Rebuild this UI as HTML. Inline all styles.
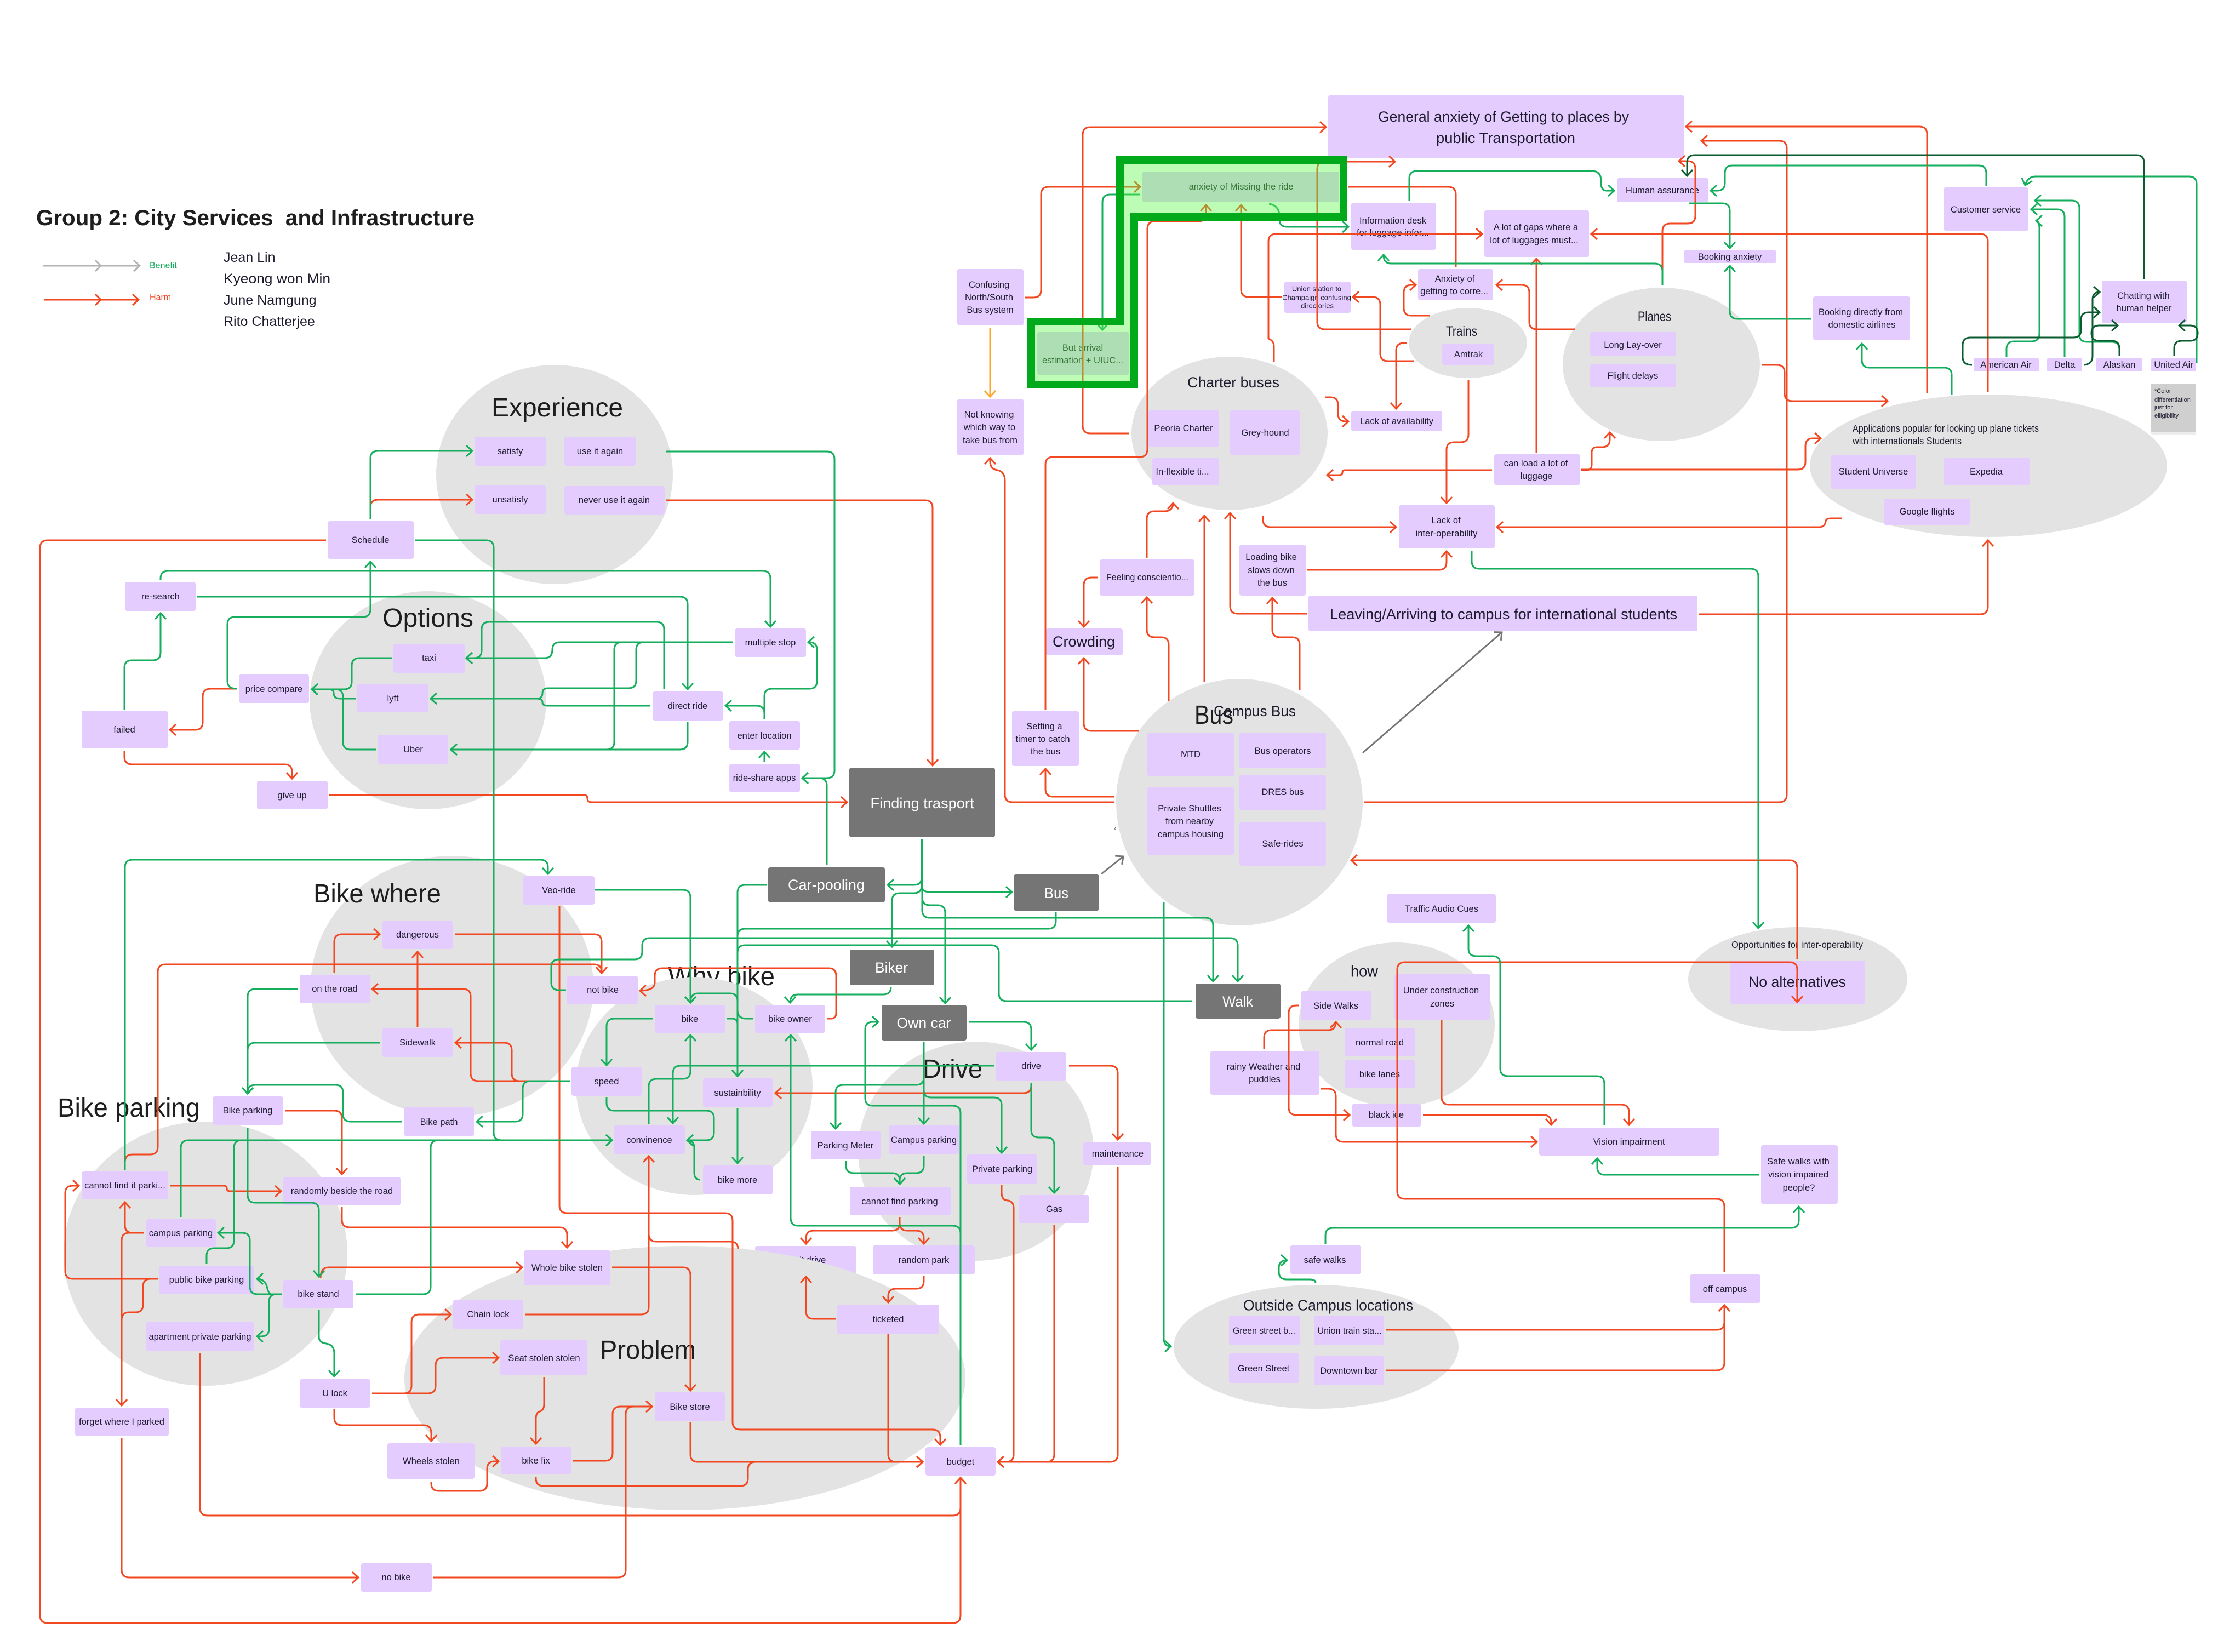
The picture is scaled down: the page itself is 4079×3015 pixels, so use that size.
<!DOCTYPE html>
<html><head><meta charset="utf-8"><title>Group 2: City Services and Infrastructure</title>
<style>
html,body{margin:0;padding:0;background:#fff}
svg{display:block}
text{font-family:"Liberation Sans",sans-serif;fill:#1e1b2e;dominant-baseline:central}
.c text,.c{text-anchor:middle;font-size:16.5px}
.h{font-size:48px;fill:#1e1e1e;dominant-baseline:auto}
.w{fill:#fff;font-size:27px;text-anchor:middle}
</style></head><body>
<svg xmlns="http://www.w3.org/2000/svg" width="4079" height="3015" viewBox="0 0 4079 3015">
<defs>
<marker id="mr" markerUnits="userSpaceOnUse" markerWidth="24" markerHeight="26" viewBox="-16 -13 20 26" refX="0" refY="0" orient="auto"><path d="M-11 -10L0 0L-11 10" fill="none" stroke="#F24822" stroke-width="3"/></marker>
<marker id="mg" markerUnits="userSpaceOnUse" markerWidth="24" markerHeight="26" viewBox="-16 -13 20 26" refX="0" refY="0" orient="auto"><path d="M-11 -10L0 0L-11 10" fill="none" stroke="#14AE5C" stroke-width="3"/></marker>
<marker id="md" markerUnits="userSpaceOnUse" markerWidth="24" markerHeight="26" viewBox="-16 -13 20 26" refX="0" refY="0" orient="auto"><path d="M-11 -10L0 0L-11 10" fill="none" stroke="#0B5B30" stroke-width="3"/></marker>
<marker id="mo" markerUnits="userSpaceOnUse" markerWidth="24" markerHeight="26" viewBox="-16 -13 20 26" refX="0" refY="0" orient="auto"><path d="M-11 -10L0 0L-11 10" fill="none" stroke="#FFA629" stroke-width="3"/></marker>
<marker id="my" markerUnits="userSpaceOnUse" markerWidth="24" markerHeight="26" viewBox="-16 -13 20 26" refX="0" refY="0" orient="auto"><path d="M-11 -10L0 0L-11 10" fill="none" stroke="#757575" stroke-width="3"/></marker>
</defs>
<rect width="4079" height="3015" fill="#fff"/>

<!-- legend -->
<text x="66" y="398" style="font-size:40px;font-weight:bold;fill:#1e1e1e" textLength="800" lengthAdjust="spacingAndGlyphs" xml:space="preserve">Group 2: City Services  and Infrastructure</text>
<g fill="none" stroke="#B3B3B3" stroke-width="3"><path d="M78 485H255"/><path d="M174 475L184 485L174 495M244 475L255 485L244 495"/></g>
<g fill="none" stroke="#F24822" stroke-width="3"><path d="M80 547H253"/><path d="M174 537L184 547L174 557M242 537L253 547L242 557"/></g>
<text x="273" y="485" style="font-size:16px;fill:#14AE5C">Benefit</text>
<text x="273" y="543" style="font-size:16px;fill:#F24822">Harm</text>
<g style="font-size:25px">
<text x="408" y="470" style="font-size:25px" >Jean Lin</text>
<text x="408" y="509" style="font-size:25px" textLength="195" lengthAdjust="spacingAndGlyphs">Kyeong won Min</text>
<text x="408" y="548" style="font-size:25px">June Namgung</text>
<text x="408" y="587" style="font-size:25px">Rito Chatterjee</text>
</g>

<!-- ellipses -->
<g fill="#E3E3E3">
<ellipse cx="1012" cy="866" rx="216" ry="200"/>
<ellipse cx="781" cy="1278" rx="216" ry="199"/>
<ellipse cx="825" cy="1800" rx="258" ry="238"/>
<ellipse cx="375" cy="2288" rx="259" ry="241"/>
</g>
<text class="h" x="1219" y="1798" textLength="195" lengthAdjust="spacingAndGlyphs">Why bike</text>
<g fill="#E3E3E3">
<ellipse cx="1267" cy="1982" rx="216" ry="199"/>
<ellipse cx="1781" cy="2101" rx="215" ry="200"/>
</g>
<rect x="1378" y="2274" width="185" height="50" rx="4" fill="#E4CCFF"/>
<text x="1470" y="2300" text-anchor="middle" style="font-size:16.5px">can't drive</text>
<g fill="#E3E3E3">
<ellipse cx="1250" cy="2515" rx="512" ry="241"/>
<ellipse cx="2262" cy="1464" rx="225" ry="225"/>
<ellipse cx="2244" cy="791" rx="179" ry="140"/>
<ellipse cx="2679" cy="626" rx="108" ry="64"/>
<ellipse cx="3032" cy="665" rx="180" ry="140"/>
<ellipse cx="3629" cy="850" rx="326" ry="130"/>
<ellipse cx="2549" cy="1870" rx="179" ry="150"/>
<ellipse cx="3281" cy="1787" rx="200" ry="95"/>
<ellipse cx="2402" cy="2458" rx="260" ry="113"/>
</g>

<!-- headings -->
<text class="h" x="897" y="760" textLength="240" lengthAdjust="spacingAndGlyphs">Experience</text>
<text class="h" x="698" y="1144" textLength="166" lengthAdjust="spacingAndGlyphs">Options</text>
<text class="h" x="572" y="1647" textLength="233" lengthAdjust="spacingAndGlyphs">Bike where</text>
<text class="h" x="105" y="2038" textLength="260" lengthAdjust="spacingAndGlyphs">Bike parking</text>
<text class="h" x="1095" y="2480" textLength="175" lengthAdjust="spacingAndGlyphs">Problem</text>
<text class="h" x="1684" y="1967" textLength="109" lengthAdjust="spacingAndGlyphs">Drive</text>
<text class="h" x="2180" y="1321" textLength="71" lengthAdjust="spacingAndGlyphs">Bus</text>
<text x="2215" y="1298" style="font-size:27px" textLength="150" lengthAdjust="spacingAndGlyphs">Campus Bus</text>
<text x="2167" y="698" style="font-size:27px" textLength="168" lengthAdjust="spacingAndGlyphs">Charter buses</text>
<text x="2639" y="605" style="font-size:25px" textLength="57" lengthAdjust="spacingAndGlyphs">Trains</text>
<text x="2989" y="578" style="font-size:25px" textLength="61" lengthAdjust="spacingAndGlyphs">Planes</text>
<text x="2465" y="1773" style="font-size:30px" textLength="50" lengthAdjust="spacingAndGlyphs">how</text>
<text x="2269" y="2382" style="font-size:28px" textLength="310" lengthAdjust="spacingAndGlyphs">Outside Campus locations</text>
<text x="3381" y="782" style="font-size:18px" textLength="340" lengthAdjust="spacingAndGlyphs">Applications popular for looking up plane tickets</text>
<text x="3381" y="805" style="font-size:18px" textLength="199" lengthAdjust="spacingAndGlyphs">with internationals Students</text>
<text x="3160" y="1724" style="font-size:17.5px" textLength="240" lengthAdjust="spacingAndGlyphs">Opportunities for inter-operability</text>
<text x="2033" y="1511" style="font-size:8px">z</text>

<!-- boxes -->
<g fill="#E4CCFF">
<rect x="866" y="797" width="130" height="53" rx="4"/><rect x="866" y="886" width="130" height="52" rx="4"/>
<rect x="1030" y="797" width="130" height="53" rx="4"/><rect x="1030" y="887" width="183" height="52" rx="4"/>
<rect x="598" y="951" width="157" height="69" rx="4"/><rect x="228" y="1062" width="129" height="53" rx="4"/>
<rect x="149" y="1297" width="157" height="69" rx="4"/><rect x="436" y="1231" width="128" height="52" rx="4"/>
<rect x="718" y="1175" width="130" height="53" rx="4"/><rect x="652" y="1248" width="130" height="52" rx="4"/>
<rect x="689" y="1341" width="129" height="53" rx="4"/><rect x="469" y="1425" width="129" height="52" rx="4"/>
<rect x="1191" y="1262" width="129" height="53" rx="4"/><rect x="1341" y="1147" width="130" height="52" rx="4"/>
<rect x="1331" y="1316" width="129" height="52" rx="4"/><rect x="1331" y="1394" width="129" height="52" rx="4"/>
<rect x="955" y="1599" width="130" height="52" rx="4"/><rect x="698" y="1680" width="128" height="52" rx="4"/>
<rect x="547" y="1779" width="129" height="52" rx="4"/><rect x="698" y="1876" width="128" height="53" rx="4"/>
<rect x="388" y="2001" width="129" height="52" rx="4"/><rect x="738" y="2021" width="127" height="53" rx="4"/>
<rect x="1035" y="1781" width="129" height="52" rx="4"/><rect x="149" y="2138" width="158" height="51" rx="4"/>
<rect x="517" y="2148" width="214" height="52" rx="4"/><rect x="267" y="2225" width="127" height="51" rx="4"/>
<rect x="956" y="2282" width="158" height="64" rx="4"/><rect x="290" y="2310" width="173" height="52" rx="4"/>
<rect x="517" y="2336" width="128" height="52" rx="4"/><rect x="267" y="2412" width="196" height="54" rx="4"/>
<rect x="827" y="2372" width="128" height="53" rx="4"/><rect x="913" y="2446" width="159" height="64" rx="4"/>
<rect x="547" y="2517" width="129" height="52" rx="4"/><rect x="137" y="2569" width="171" height="52" rx="4"/>
<rect x="707" y="2634" width="159" height="65" rx="4"/><rect x="914" y="2640" width="128" height="51" rx="4"/>
<rect x="659" y="2853" width="129" height="52" rx="4"/><rect x="1195" y="2541" width="128" height="53" rx="4"/>
<rect x="1689" y="2641" width="128" height="52" rx="4"/><rect x="1528" y="2381" width="186" height="53" rx="4"/>
<rect x="1593" y="2273" width="186" height="53" rx="4"/><rect x="1195" y="1834" width="128" height="51" rx="4"/>
<rect x="1378" y="1834" width="128" height="51" rx="4"/><rect x="1043" y="1947" width="128" height="53" rx="4"/>
<rect x="1283" y="1968" width="127" height="52" rx="4"/><rect x="1120" y="2054" width="130" height="52" rx="4"/>
<rect x="1283" y="2127" width="127" height="53" rx="4"/><rect x="1818" y="1920" width="128" height="52" rx="4"/>
<rect x="1480" y="2064" width="127" height="52" rx="4"/><rect x="1622" y="2054" width="129" height="52" rx="4"/>
<rect x="1765" y="2107" width="128" height="53" rx="4"/><rect x="1977" y="2085" width="124" height="41" rx="4"/>
<rect x="1860" y="2181" width="128" height="51" rx="4"/><rect x="1551" y="2166" width="184" height="52" rx="4"/>
<rect x="2094" y="1338" width="159" height="78" rx="4"/><rect x="2262" y="1337" width="158" height="65" rx="4"/>
<rect x="2262" y="1414" width="158" height="65" rx="4"/><rect x="2094" y="1437" width="159" height="123" rx="4"/>
<rect x="2262" y="1500" width="158" height="80" rx="4"/><rect x="1847" y="1298" width="122" height="100" rx="4"/>
<rect x="1909" y="1147" width="140" height="49" rx="4"/><rect x="2007" y="1021" width="173" height="66" rx="4"/>
<rect x="2262" y="994" width="121" height="93" rx="4"/><rect x="2388" y="1087" width="710" height="65" rx="4"/>
<rect x="2553" y="922" width="175" height="79" rx="4"/><rect x="2531" y="1632" width="199" height="52" rx="4"/>
<rect x="2424" y="174" width="650" height="115" rx="4"/><rect x="1747" y="491" width="121" height="103" rx="4"/>
<rect x="1747" y="728" width="121" height="103" rx="4"/><rect x="2466" y="370" width="155" height="86" rx="4"/>
<rect x="2709" y="384" width="191" height="85" rx="4"/><rect x="2588" y="491" width="137" height="57" rx="4"/>
<rect x="2344" y="514" width="121" height="57" rx="4"/><rect x="2632" y="627" width="95" height="39" rx="4"/>
<rect x="2095" y="749" width="130" height="66" rx="4"/><rect x="2245" y="749" width="128" height="81" rx="4"/>
<rect x="2103" y="836" width="122" height="50" rx="4"/><rect x="2466" y="750" width="166" height="37" rx="4"/>
<rect x="2727" y="829" width="157" height="56" rx="4"/><rect x="2951" y="325" width="167" height="44" rx="4"/>
<rect x="3074" y="457" width="167" height="23" rx="2"/><rect x="3309" y="541" width="177" height="80" rx="4"/>
<rect x="3547" y="342" width="155" height="79" rx="4"/><rect x="3836" y="512" width="155" height="78" rx="4"/>
<rect x="3602" y="654" width="119" height="24" rx="2"/><rect x="3736" y="654" width="64" height="24" rx="2"/>
<rect x="3826" y="654" width="84" height="24" rx="2"/><rect x="3926" y="654" width="82" height="24" rx="2"/>
<rect x="2902" y="606" width="157" height="44" rx="4"/><rect x="2902" y="664" width="157" height="43" rx="4"/>
<rect x="3342" y="830" width="155" height="62" rx="4"/><rect x="3547" y="836" width="158" height="49" rx="4"/>
<rect x="3438" y="910" width="158" height="48" rx="4"/><rect x="2545" y="1778" width="175" height="83" rx="4"/>
<rect x="2374" y="1809" width="129" height="52" rx="4"/><rect x="2454" y="1876" width="128" height="52" rx="4"/>
<rect x="2454" y="1935" width="128" height="51" rx="4"/><rect x="2209" y="1918" width="199" height="80" rx="4"/>
<rect x="2468" y="2014" width="125" height="43" rx="4"/><rect x="2809" y="2058" width="329" height="51" rx="4"/>
<rect x="3214" y="2090" width="140" height="107" rx="4"/><rect x="2354" y="2273" width="130" height="52" rx="4"/>
<rect x="3084" y="2326" width="129" height="52" rx="4"/><rect x="2243" y="2401" width="129" height="54" rx="4"/>
<rect x="2398" y="2401" width="128" height="54" rx="4"/><rect x="2243" y="2470" width="128" height="54" rx="4"/>
<rect x="2398" y="2475" width="128" height="53" rx="4"/><rect x="3157" y="1753" width="247" height="79" rx="4"/>
<rect x="2085" y="313" width="359" height="56" rx="4"/><rect x="1893" y="606" width="167" height="79" rx="4"/>
</g>
<rect x="3926" y="703" width="82" height="90" rx="2" fill="#EDEDED"/>
<rect x="3926" y="700" width="82" height="89" rx="2" fill="#CFCFCF"/>
<g fill="#757575">
<rect x="1550" y="1401" width="266" height="127" rx="4"/><rect x="1402" y="1583" width="213" height="64" rx="4"/>
<rect x="1850" y="1596" width="156" height="66" rx="4"/><rect x="1551" y="1733" width="154" height="65" rx="4"/>
<rect x="1609" y="1834" width="155" height="65" rx="4"/><rect x="2182" y="1795" width="155" height="64" rx="4"/>
</g>

<!-- box text -->
<g class="c">
<text x="931" y="824">satisfy</text><text x="931" y="912">unsatisfy</text>
<text x="1095" y="824">use it again</text><text x="1121" y="913">never use it again</text>
<text x="676" y="986">Schedule</text><text x="293" y="1089">re-search</text><text x="227" y="1332">failed</text>
<text x="500" y="1258">price compare</text><text x="783" y="1201">taxi</text><text x="717" y="1275">lyft</text>
<text x="754" y="1368">Uber</text><text x="533" y="1452">give up</text><text x="1255" y="1289">direct ride</text>
<text x="1406" y="1173">multiple stop</text><text x="1395" y="1343">enter location</text><text x="1395" y="1420">ride-share apps</text>
<text x="1020" y="1625">Veo-ride</text><text x="762" y="1706">dangerous</text><text x="611" y="1805">on the road</text>
<text x="762" y="1903">Sidewalk</text><text x="452" y="2027">Bike parking</text><text x="801" y="2048">Bike path</text>
<text x="1100" y="1807">not bike</text><text x="228" y="2164">cannot find it parki...</text><text x="624" y="2174">randomly beside the road</text>
<text x="330" y="2251">campus parking</text><text x="1035" y="2314">Whole bike stolen</text><text x="377" y="2336">public bike parking</text>
<text x="581" y="2362">bike stand</text><text x="365" y="2440">apartment private parking</text><text x="891" y="2399">Chain lock</text>
<text x="993" y="2479">Seat stolen stolen</text><text x="611" y="2543">U lock</text><text x="222" y="2595">forget where I parked</text>
<text x="787" y="2667">Wheels stolen</text><text x="978" y="2666">bike fix</text><text x="723" y="2879">no bike</text>
<text x="1259" y="2568">Bike store</text><text x="1753" y="2668">budget</text><text x="1621" y="2408">ticketed</text>
<text x="1686" y="2300">random park</text><text x="1259" y="1860">bike</text><text x="1442" y="1860">bike owner</text>
<text x="1107" y="1974">speed</text><text x="1346" y="1995">sustainbility</text><text x="1185" y="2081">convinence</text>
<text x="1346" y="2154">bike more</text><text x="1882" y="1946">drive</text><text x="1543" y="2091">Parking Meter</text>
<text x="1686" y="2081">Campus parking</text><text x="1829" y="2134">Private parking</text><text x="2040" y="2106">maintenance</text>
<text x="1924" y="2207">Gas</text><text x="1642" y="2193">cannot find parking</text>
<text x="2173" y="1377">MTD</text><text x="2341" y="1371">Bus operators</text><text x="2341" y="1446">DRES  bus</text>
<text x="2171" y="1476">Private Shuttles</text><text x="2171" y="1499">from nearby</text><text x="2173" y="1523">campus housing</text>
<text x="2341" y="1540">Safe-rides</text>
<text x="1906" y="1326">Setting a</text><text x="1903" y="1349">timer to catch</text><text x="1908" y="1372">the bus</text>
<text x="2094" y="1054" textLength="150" lengthAdjust="spacingAndGlyphs">Feeling conscientio...</text>
<text x="2320" y="1017">Loading bike</text><text x="2320" y="1041">slows down</text><text x="2322" y="1064">the bus</text>
<text x="2639" y="950">Lack of</text><text x="2640" y="974">inter-operability</text>
<text x="2631" y="1659">Traffic Audio Cues</text>
<text x="1805" y="520">Confusing</text><text x="1805" y="543">North/South</text><text x="1807" y="566">Bus system</text>
<text x="1805" y="757">Not knowing</text><text x="1806" y="780">which way to</text><text x="1807" y="804">take bus from</text>
<text x="2542" y="403">Information desk</text><text x="2542" y="425">for luggage infor...</text>
<text x="2803" y="415">A lot of gaps where a</text><text x="2800" y="439">lot of luggages must...</text>
<text x="2655" y="509">Anxiety of</text><text x="2654" y="532">getting to corre...</text>
<g style="font-size:13px"><text x="2403" y="527" style="font-size:13px">Union station to</text><text x="2403" y="543" style="font-size:13px">Champaign confusing</text><text x="2404" y="558" style="font-size:13px">directories</text></g>
<text x="2680" y="647">Amtrak</text><text x="2160" y="782">Peoria Charter</text><text x="2309" y="790">Grey-hound</text>
<text x="2158" y="861">In-flexible ti...</text><text x="2549" y="769">Lack of availability</text>
<text x="2803" y="846">can load a lot of</text><text x="2804" y="869">luggage</text>
<text x="3034" y="348">Human assurance</text><text x="3157" y="469">Booking anxiety</text>
<text x="3396" y="570">Booking directly from</text><text x="3398" y="593">domestic airlines</text>
<text x="3624" y="383">Customer service</text>
<text x="3912" y="540">Chatting with</text><text x="3913" y="563">human helper</text>
<text x="3661" y="666">American Air</text><text x="3768" y="666">Delta</text><text x="3868" y="666">Alaskan</text><text x="3967" y="666">United Air</text>
<text x="2980" y="630">Long Lay-over</text><text x="2980" y="686">Flight delays</text>
<text x="3419" y="861">Student Universe</text><text x="3625" y="861">Expedia</text><text x="3517" y="934">Google flights</text>
<text x="2630" y="1808">Under construction</text><text x="2632" y="1832">zones</text>
<text x="2438" y="1836">Side Walks</text><text x="2518" y="1903">normal road</text><text x="2518" y="1961">bike lanes</text>
<text x="2306" y="1947">rainy Weather and</text><text x="2308" y="1970">puddles</text>
<text x="2530" y="2035">black ice</text><text x="2973" y="2084">Vision impairment</text>
<text x="3282" y="2120">Safe walks with</text><text x="3282" y="2144">vision impaired</text><text x="3283" y="2168">people?</text>
<text x="2418" y="2300">safe walks</text><text x="3148" y="2353">off campus</text>
<text x="2307" y="2429" textLength="114" lengthAdjust="spacingAndGlyphs">Green street b...</text>
<text x="2463" y="2429" textLength="117" lengthAdjust="spacingAndGlyphs">Union train sta...</text>
<text x="2306" y="2498">Green Street</text><text x="2462" y="2502">Downtown bar</text>
<text x="2265" y="341" style="fill:#1e1b2e">anxiety of Missing the ride</text>
<text x="1976" y="635">But arrival</text><text x="1976" y="658">estimation + UIUC...</text>
</g>
<text x="2744" y="213" text-anchor="middle" style="font-size:27px" textLength="458" lengthAdjust="spacingAndGlyphs">General anxiety of Getting to places by</text>
<text x="2748" y="252" text-anchor="middle" style="font-size:27px" textLength="254" lengthAdjust="spacingAndGlyphs">public Transportation</text>
<text x="2744" y="1121" text-anchor="middle" style="font-size:27px" textLength="634" lengthAdjust="spacingAndGlyphs">Leaving/Arriving to campus for international students</text>
<text x="1978" y="1171" text-anchor="middle" style="font-size:27px" textLength="114" lengthAdjust="spacingAndGlyphs">Crowding</text>
<text x="3280" y="1792" text-anchor="middle" style="font-size:27px" textLength="178" lengthAdjust="spacingAndGlyphs">No alternatives</text>
<text class="w" x="1683" y="1466" textLength="189" lengthAdjust="spacingAndGlyphs">Finding trasport</text>
<text class="w" x="1508" y="1615" textLength="140" lengthAdjust="spacingAndGlyphs">Car-pooling</text>
<text class="w" x="1928" y="1630" textLength="44" lengthAdjust="spacingAndGlyphs">Bus</text>
<text class="w" x="1627" y="1766" textLength="60" lengthAdjust="spacingAndGlyphs">Biker</text>
<text class="w" x="1686" y="1867" textLength="99" lengthAdjust="spacingAndGlyphs">Own car</text>
<text class="w" x="2259" y="1828" textLength="56" lengthAdjust="spacingAndGlyphs">Walk</text>
<g style="font-size:11px"><text x="3932" y="714" style="font-size:11px">*Color</text><text x="3932" y="730" style="font-size:11px">differentiation</text><text x="3932" y="744" style="font-size:11px">just for</text><text x="3932" y="759" style="font-size:11px">elligibility</text></g>

<!-- red connectors -->
<g fill="none" stroke="#F24822" stroke-width="3" marker-end="url(#mr)">
<path d="M595 986H87Q73 986 73 1000V2948Q73 2962 87 2962H1739Q1753 2962 1753 2948V2697"/>
<path d="M676 947V926Q676 912 690 912H862"/>
<path d="M1216 913H1688Q1702 913 1702 927V1397"/>
<path d="M432 1257H384Q370 1257 370 1271V1318Q370 1332 356 1332H310"/>
<path d="M227 1370V1381Q227 1395 241 1395H519Q533 1395 533 1409V1421"/>
<path d="M600 1451H1066Q1072 1451 1072 1457Q1072 1464 1080 1464H1546"/>
<path d="M2033 1464H1848Q1834 1464 1834 1450V878Q1834 860 1820 858Q1807 856 1807 842V836"/>
<path d="M1908 1295V848Q1908 834 1922 834H2080Q2094 834 2094 820V418Q2094 404 2108 404H2187Q2201 404 2201 390V374"/>
<path d="M2340 542H2279Q2265 542 2265 528V374"/>
<path d="M1871 543H1886Q1900 543 1900 529V355Q1900 341 1914 341H2081"/>
<path d="M2061 791H1990Q1976 791 1976 777V246Q1976 232 1990 232H2420"/>
<path d="M2576 601H2418Q2404 601 2404 587V309Q2404 295 2418 295H2546"/>
<path marker-end="none" d="M2460 341H2643Q2657 341 2657 355V487"/>
<path d="M2325 660V632Q2325 622 2315 618V441Q2315 427 2329 427H2705"/>
<path d="M2580 659H2533Q2519 659 2519 645V556Q2519 542 2505 542H2469"/>
<path d="M2567 626H2562Q2548 626 2548 640V746"/>
<path d="M2609 576H2576Q2562 576 2562 562V534Q2562 520 2576 520H2584"/>
<path d="M2875 601H2805Q2791 601 2791 587V534Q2791 520 2777 520H2731"/>
<path d="M2804 826V472"/>
<path d="M2723 858H2455Q2450 858 2450 862Q2450 867 2444 867H2422"/>
<path d="M2886 858H2895Q2905 858 2905 848V826Q2905 816 2915 816H2924Q2938 816 2938 802V789"/>
<path d="M2886 857H3281Q3295 857 3295 843V814Q3295 800 3309 800H3323"/>
<path d="M2418 725H2428Q2442 725 2442 739V755Q2442 769 2456 769H2461"/>
<path d="M2680 693V793Q2680 807 2666 807H2654Q2640 807 2640 821V918"/>
<path d="M3362 946H3342Q3332 946 3332 952Q3330 962 3320 962H2732"/>
<path d="M2385 1040H2626Q2640 1040 2640 1026V1006"/>
<path d="M2305 941V948Q2305 962 2319 962H2548"/>
<path d="M2385 1120H2259Q2245 1120 2245 1106V936"/>
<path d="M2198 1245V941"/>
<path d="M2372 1259V1177Q2372 1163 2358 1163H2336Q2322 1163 2322 1149V1091"/>
<path d="M2133 1280V1177Q2133 1163 2119 1163H2107Q2093 1163 2093 1149V1090"/>
<path d="M2093 1018V947Q2093 933 2107 933H2125Q2141 933 2141 918"/>
<path d="M2004 1054H1992Q1978 1054 1978 1068V1144"/>
<path d="M2079 1334H1992Q1978 1334 1978 1320V1201"/>
<path d="M2033 1454H1922Q1908 1454 1908 1440V1403"/>
<path d="M2490 1464H3247Q3261 1464 3261 1450V271Q3261 257 3247 257H3105"/>
<path d="M3280 1750V1584Q3280 1570 3266 1570H2466"/>
<path d="M3100 1121H3614Q3628 1121 3628 1107V986"/>
<path d="M3517 718V245Q3517 231 3503 231H3077"/>
<path d="M3628 716V441Q3628 427 3614 427H2904"/>
<path d="M3034 521V422Q3034 408 3048 408H3080Q3094 408 3094 394V308Q3094 294 3080 294H3064"/>
<path d="M3216 666H3243Q3257 666 3257 680V718Q3257 732 3271 732H3445"/>
<path d="M1021 1654V2200Q1021 2214 1035 2214H1323Q1337 2214 1337 2228V2595Q1337 2609 1351 2609H1702Q1716 2609 1716 2623V2637"/>
<path d="M830 1705H1084Q1098 1705 1098 1719V1776"/>
<path d="M228 2136V2121Q228 2107 242 2107H274Q288 2107 288 2093V1774Q288 1760 302 1760H1084Q1098 1760 1098 1774V1776"/>
<path d="M610 1775V1719Q610 1705 624 1705H693"/>
<path d="M762 1874V1737"/>
<path d="M1000 1973H873Q859 1973 859 1959V1819Q859 1805 845 1805H679"/>
<path d="M1000 1973H948Q934 1973 934 1959V1917Q934 1903 920 1903H831"/>
<path d="M520 2027H610Q624 2027 624 2041V2143"/>
<path d="M311 2164H408Q414 2164 414 2169Q414 2174 420 2174H513"/>
<path d="M624 2203V2226Q624 2240 638 2240H1021Q1035 2240 1035 2254V2277"/>
<path d="M288 2334H133Q119 2334 119 2320V2178Q119 2164 133 2164H144"/>
<path d="M263 2250H242Q228 2250 228 2236V2194"/>
<path d="M263 2250H236Q222 2250 222 2264V2565"/>
<path marker-end="none" d="M288 2334H275Q261 2334 261 2348V2381Q261 2395 247 2395H236Q222 2395 222 2409"/>
<path d="M222 2625V2865Q222 2879 236 2879H654"/>
<path d="M791 2879H1128Q1142 2879 1142 2865V2581Q1142 2567 1156 2567H1190"/>
<path d="M365 2469V2752Q365 2766 379 2766H1739Q1753 2766 1753 2752V2697"/>
<path d="M585 2332Q585 2313 600 2313H953"/>
<path d="M679 2543H737Q751 2543 751 2529V2413Q751 2399 765 2399H823"/>
<path d="M679 2543H781Q795 2543 795 2529V2492Q795 2478 809 2478H910"/>
<path d="M993 2514V2562Q993 2574 985 2576Q978 2578 978 2590V2635"/>
<path d="M610 2572V2587Q610 2601 624 2601H773Q787 2601 787 2615V2630"/>
<path d="M787 2704V2707Q787 2721 801 2721H875Q889 2721 889 2707V2681Q889 2667 903 2667H910"/>
<path d="M1045 2666H1104Q1118 2666 1118 2652V2581Q1118 2567 1132 2567H1190"/>
<path d="M978 2695V2698Q978 2712 992 2712H1351Q1365 2712 1365 2698V2682Q1365 2668 1379 2668H1684"/>
<path d="M1260 2596V2654Q1260 2668 1274 2668H1684"/>
<path d="M1621 2435V2654Q1621 2668 1635 2668H1684"/>
<path d="M959 2399H1170Q1184 2399 1184 2385V2110"/>
<path marker-end="none" d="M1347 2279V2280Q1347 2266 1333 2266H1198Q1184 2266 1184 2252"/>
<path d="M1117 2313H1246Q1260 2313 1260 2327V2538"/>
<path d="M1642 2221V2232Q1642 2246 1628 2246H1485Q1471 2246 1471 2260V2270"/>
<path d="M1642 2221V2232Q1642 2246 1656 2246H1672Q1686 2246 1686 2260V2270"/>
<path d="M1686 2328V2338Q1686 2352 1672 2352H1635Q1621 2352 1621 2366V2377"/>
<path d="M1525 2407H1485Q1471 2407 1471 2393V2330"/>
<path d="M1828 2163V2177Q1828 2191 1840 2191Q1850 2193 1850 2205V2654Q1850 2668 1836 2668H1821"/>
<path d="M1924 2236V2654Q1924 2668 1910 2668H1821"/>
<path d="M2040 2130V2654Q2040 2668 2026 2668H1821"/>
<path d="M1951 1945H2026Q2040 1945 2040 1959V2080"/>
<path d="M1882 1976V1981Q1882 1995 1868 1995H1415"/>
<path d="M1510 1859H1516Q1526 1859 1526 1849V1781Q1526 1767 1512 1767H1209Q1195 1767 1195 1781V1793Q1195 1808 1168 1808"/>
<path d="M2307 1915V1894Q2307 1880 2321 1880H2424Q2438 1880 2438 1865"/>
<path d="M2371 1835H2366Q2352 1835 2352 1849V2021Q2352 2035 2366 2035H2463"/>
<path d="M2411 1987H2424Q2438 1987 2438 2001V2070Q2438 2084 2452 2084H2805"/>
<path d="M2597 2035H2817Q2831 2035 2831 2049V2053"/>
<path d="M2631 1862V2002Q2631 2016 2645 2016H2959Q2973 2016 2973 2030V2053"/>
<path d="M2530 2427H3133Q3147 2427 3147 2413V2382"/>
<path d="M2530 2501H3133Q3147 2501 3147 2487V2382"/>
<path d="M3147 2322V2202Q3147 2188 3133 2188H2564Q2550 2188 2550 2174V1770Q2550 1756 2564 1756H3266Q3280 1756 3280 1770V1829"/>
</g>

<!-- green connectors -->
<g fill="none" stroke="#14AE5C" stroke-width="3" marker-end="url(#mg)">
<path d="M676 947V837Q676 823 690 823H862"/>
<path d="M758 986H887Q901 986 901 1000V2067Q901 2081 915 2081H1117"/>
<path d="M293 1059V1056Q293 1042 307 1042H1392Q1406 1042 1406 1056V1144"/>
<path d="M360 1089H1241Q1255 1089 1255 1103V1258"/>
<path d="M432 1257Q415 1257 415 1243V1140Q415 1126 429 1126H662Q676 1126 676 1112V1025"/>
<path d="M227 1295V1219Q227 1205 241 1205H279Q293 1205 293 1191V1119"/>
<path d="M716 1201H656Q642 1201 642 1215V1244Q642 1258 628 1258H569"/>
<path d="M649 1275H621Q609 1275 609 1265Q609 1258 600 1258H569"/>
<path d="M686 1368H640Q626 1368 626 1354V1272Q626 1258 612 1258H569"/>
<path d="M1338 1172H1022Q1008 1172 1008 1186Q1008 1201 994 1201H851"/>
<path d="M1212 1258V1149Q1212 1135 1198 1135H893Q879 1135 879 1149V1187Q879 1201 865 1201H851"/>
<path d="M1338 1172H1175Q1161 1172 1161 1186V1242Q1161 1256 1147 1256H1000Q990 1256 990 1265Q990 1275 980 1275H786"/>
<path d="M1187 1288H1000Q990 1288 990 1282Q990 1275 980 1275H786"/>
<path d="M1255 1317V1354Q1255 1368 1241 1368H823"/>
<path d="M1338 1172H1135Q1121 1172 1121 1186V1354Q1121 1368 1107 1368H823"/>
<path d="M1395 1312V1302Q1395 1288 1381 1288H1324"/>
<path d="M1395 1312V1271Q1395 1257 1409 1257H1477Q1491 1257 1491 1243V1186Q1491 1172 1477 1172H1475"/>
<path d="M1395 1391V1372"/>
<path d="M1216 824H1509Q1523 824 1523 838V1406Q1523 1420 1509 1420H1464"/>
<path d="M1509 1579V1434Q1509 1420 1495 1420H1464"/>
<path d="M1682 1531V1601Q1682 1615 1668 1615H1620"/>
<path d="M1682 1531V1614Q1682 1628 1696 1628H1847"/>
<path d="M1682 1531V1616Q1682 1630 1668 1630H1642Q1628 1630 1628 1644V1728"/>
<path d="M1683 1531V1638Q1683 1652 1697 1652H1711Q1725 1652 1725 1666V1831"/>
<path d="M1683 1531V1661Q1683 1675 1697 1675H2200Q2214 1675 2214 1689V1791"/>
<path d="M1927 1665V1681Q1927 1695 1913 1695H1360Q1346 1695 1346 1709V1964"/>
<path d="M1400 1615H1360Q1346 1615 1346 1629V1964"/>
<path d="M1033 1807H1020Q1006 1807 1006 1793V1765Q1006 1751 1020 1751H1158Q1172 1751 1172 1737V1726Q1172 1712 1186 1712H2245Q2259 1712 2259 1726V1791"/>
<path d="M2175 1827H1837Q1823 1827 1823 1813V1739Q1823 1725 1809 1725H1360Q1346 1725 1346 1739V1964"/>
<path d="M2124 1647V2443Q2124 2457 2137 2457"/>
<path d="M1086 1624H1246Q1260 1624 1260 1638V1830"/>
<path d="M228 2136V1583Q228 1569 242 1569H986Q1000 1569 1000 1583V1595"/>
<path d="M544 1805H466Q452 1805 452 1819V1996"/>
<path d="M694 1903H466Q452 1903 452 1917V1996"/>
<path d="M734 2047H640Q626 2047 626 2033V1994Q626 1980 612 1980H466Q452 1980 452 1994V1996"/>
<path d="M1040 1973H968Q954 1973 954 1987V2033Q954 2047 940 2047H870"/>
<path d="M452 2058V2181Q452 2195 466 2195H568Q582 2195 582 2209V2330"/>
<path d="M330 2221V2095Q330 2081 344 2081H1117"/>
<path d="M377 2306V2292Q377 2278 391 2278H413Q427 2278 427 2264V2095Q427 2081 441 2081H1117"/>
<path d="M649 2362H772Q786 2362 786 2348V2095Q786 2081 800 2081H1117"/>
<path d="M514 2362H470Q456 2362 456 2348V2264Q456 2250 442 2250H398"/>
<path d="M514 2362H495Q491 2362 488 2352Q485 2334 469 2334"/>
<path d="M514 2362H505Q491 2362 491 2376V2425Q491 2439 477 2439H469"/>
<path d="M582 2391V2440Q582 2450 595 2452Q610 2454 610 2470V2512"/>
<path d="M1191 1859H1121Q1107 1859 1107 1873V1944"/>
<path d="M1375 1859H1362Q1346 1859 1346 1843V1827Q1346 1813 1332 1813H1274Q1260 1813 1260 1830"/>
<path marker-end="none" d="M1326 1859H1336Q1346 1859 1346 1869"/>
<path d="M1626 1801Q1626 1815 1612 1815H1456Q1442 1815 1442 1830"/>
<path d="M1107 2003V2013Q1107 2027 1121 2027H1289Q1303 2027 1303 2041V2067Q1303 2081 1289 2081H1254"/>
<path d="M1278 2153Q1267 2153 1267 2140V2095Q1267 2081 1254 2081"/>
<path d="M1184 2051V1983Q1184 1969 1198 1969H1246Q1260 1969 1260 1955V1889"/>
<path d="M1814 1945H1242Q1228 1945 1228 1959V2050"/>
<path d="M1346 2023V2123"/>
<path d="M1882 1976V2062Q1882 2076 1896 2076H1910Q1924 2076 1924 2090V2177"/>
<path d="M1768 1865H1868Q1882 1865 1882 1879V1916"/>
<path d="M1686 1902V2051"/>
<path d="M1686 1950V1966Q1686 1980 1672 1980H1539Q1525 1980 1525 1994V2060"/>
<path d="M1686 1990Q1686 2003 1700 2003H1814Q1828 2003 1828 2017V2104"/>
<path d="M1753 2638V2032Q1753 2018 1739 2018H1593Q1579 2018 1579 2004V1879Q1579 1865 1593 1865H1603"/>
<path d="M1753 2251Q1753 2237 1739 2237H1457Q1443 2237 1443 2223V1889"/>
<path d="M1544 2119V2127Q1544 2141 1558 2141H1628Q1642 2141 1642 2155V2161"/>
<path d="M1686 2110V2127Q1686 2141 1672 2141H1656Q1642 2141 1642 2155V2161"/>
<path d="M2686 1006V1024Q2686 1038 2700 1038H3195Q3209 1038 3209 1052V1694"/>
<path d="M2928 2053V1978Q2928 1964 2914 1964H2752Q2738 1964 2738 1950V1759Q2738 1745 2724 1745H2694Q2680 1745 2680 1731V1689"/>
<path d="M3211 2144H2929Q2915 2144 2915 2130V2114"/>
<path d="M2419 2270V2255Q2419 2241 2433 2241H3269Q3283 2241 3283 2227V2202"/>
<path d="M2401 2341Q2401 2335 2390 2335H2348Q2334 2335 2334 2321V2314Q2334 2300 2349 2300"/>
<path d="M2081 355H2026Q2012 355 2012 369V602"/>
<path d="M2316 372Q2335 375 2335 395V400Q2335 414 2349 414H2461"/>
<path d="M2572 366V326Q2572 312 2586 312H2905Q2922 312 2922 330V334Q2922 348 2932 348H2946"/>
<path d="M3034 521V495Q3034 481 3020 481H2539Q2525 481 2525 465"/>
<path d="M3082 371H3143Q3157 371 3157 385V453"/>
<path d="M3306 582H3171Q3157 582 3157 568V485"/>
<path d="M3562 720V685Q3562 671 3548 671H3412Q3398 671 3398 657V627"/>
<path d="M3625 339V316Q3625 302 3611 302H3162Q3148 302 3148 316V334Q3148 348 3134 348H3122"/>
<path d="M4009 662V336Q4009 322 3995 322H3715Q3701 322 3696 338"/>
<path d="M3868 650V638Q3868 624 3854 624H3809Q3795 624 3795 610V380Q3795 366 3781 366H3714"/>
<path d="M3768 652V396Q3768 382 3754 382H3707"/>
<path d="M3662 652V637Q3662 623 3676 623H3708Q3722 623 3722 609V417Q3722 403 3716 403"/>
</g>

<!-- dark green connectors -->
<g fill="none" stroke="#0B5B30" stroke-width="3" marker-end="url(#md)">
<path d="M3913 509V297Q3913 283 3899 283H3093Q3079 283 3079 297V321"/>
<path d="M3599 666Q3582 666 3582 652V630Q3582 616 3596 616H3784Q3798 616 3798 602V584Q3798 570 3812 570H3832"/>
<path d="M3804 666Q3819 664 3819 650V547Q3819 533 3832 533"/>
<path d="M3868 650V636Q3868 622 3854 622H3831Q3817 622 3817 608Q3817 594 3831 594H3865"/>
<path d="M3968 650V636Q3968 622 3982 622H3997Q4011 622 4011 608Q4011 594 3997 594H3977"/>
</g>

<path d="M1807 598V724" fill="none" stroke="#FFA629" stroke-width="3" marker-end="url(#mo)"/>
<g fill="none" stroke="#757575" stroke-width="3" marker-end="url(#my)">
<path d="M2010 1595L2050 1563"/>
<path d="M2487 1374L2741 1154"/>
</g>

<!-- highlight -->
<polygon points="2044,292 2452,292 2452,396 2070,396 2070,702 1882,702 1882,587 2044,587" fill="rgb(94,247,74)" fill-opacity="0.41"/>
<polygon points="2044,292 2452,292 2452,396 2070,396 2070,702 1882,702 1882,587 2044,587" fill="none" stroke="#00AA1B" stroke-width="14"/>
</svg>
</body></html>
